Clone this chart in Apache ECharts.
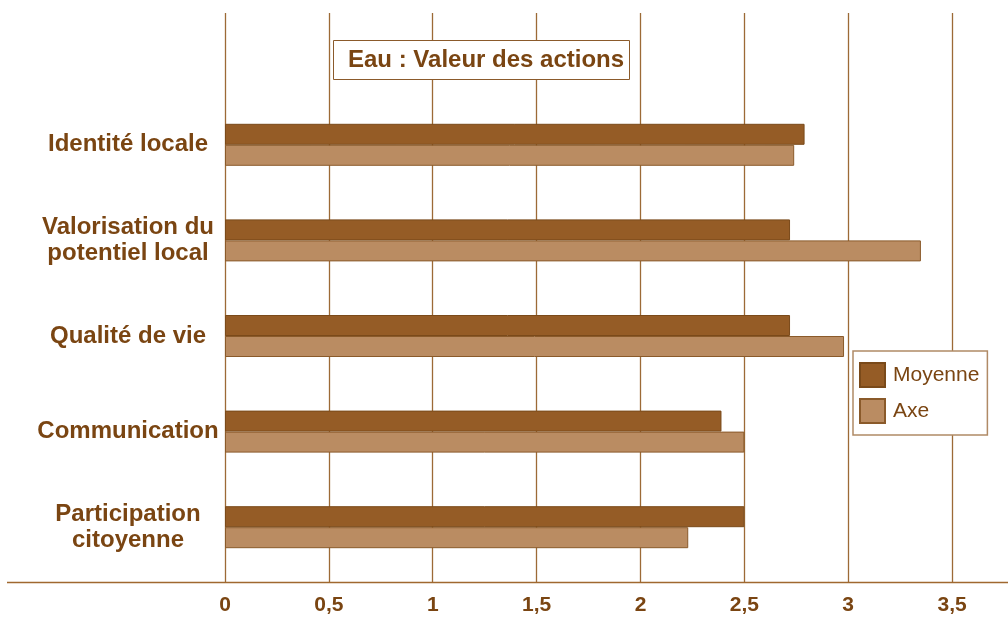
<!DOCTYPE html>
<html>
<head>
<meta charset="utf-8">
<script src="https://cdn.jsdelivr.net/npm/echarts@6/dist/echarts.min.js"></script>
<style>
html, body { margin: 0; padding: 0; background: #fff; }
#chart { width: 1008px; height: 620px; }
</style>
</head>
<body>
<div id="chart"></div>
<script>
var categories = ['Identité locale', 'Valorisation du\npotentiel local', 'Qualité de vie', 'Communication', 'Participation\ncitoyenne'];
var moyenne = [2.79, 2.72, 2.72, 2.39, 2.5];
var axe = [2.74, 3.35, 2.98, 2.5, 2.23];
var titleText = 'Eau : Valeur des actions';

var brown = '#7A4512';
var lineColor = '#9C6A36';
var font = 'Liberation Sans, Arial, sans-serif';

var chart = echarts.init(document.getElementById('chart'));

var option = {
    animation: false,
    title: {
        text: titleText,
        left: 333,
        top: 40,
        padding: [8, 6, 8, 15],
        backgroundColor: '#fff',
        borderColor: '#8B5A2B',
        borderWidth: 1,
        textStyle: {
            color: brown,
            fontFamily: font,
            fontWeight: 'bold',
            fontSize: 24
        }
    },
    legend: {
        orient: 'vertical',
        left: 853,
        top: 351,
        padding: [11, 8, 11, 6],
        itemGap: 10,
        itemWidth: 25,
        itemHeight: 24,
        icon: 'rect',
        backgroundColor: '#fff',
        borderColor: '#B08A66',
        borderWidth: 1.5,
        textStyle: {
            color: brown,
            fontFamily: font,
            fontSize: 21,
            padding: [0, 0, 0, 3]
        },
        data: ['Moyenne', 'Axe']
    },
    grid: [
        // grille des lignes verticales
        { left: 225, right: 4, top: 13, bottom: 38 },
        // grille des barres
        { left: 225, right: 4, top: 97, bottom: 45 }
    ],
    xAxis: [{
        gridIndex: 0,
        type: 'value',
        min: 0,
        max: 3.75,
        interval: 0.5,
        axisLine: { show: false },
        axisTick: { show: false },
        splitLine: { show: true, showMaxLine: false, lineStyle: { color: lineColor, width: 1.3 } },
        axisLabel: {
            margin: 13,
            showMaxLabel: false,
            color: brown,
            fontFamily: font,
            fontWeight: 'bold',
            fontSize: 21,
            formatter: function (v) {
                return v > 3.5 ? '' : String(v).replace('.', ',');
            }
        }
    }, {
        gridIndex: 1,
        type: 'value',
        min: 0,
        max: 3.75,
        show: false
    }],
    yAxis: [{
        gridIndex: 0,
        type: 'value',
        show: false
    }, {
        gridIndex: 1,
        type: 'category',
        inverse: true,
        data: categories,
        axisLine: { show: false },
        axisTick: { show: false },
        splitLine: { show: false },
        axisLabel: {
            margin: 97,
            align: 'center',
            color: brown,
            fontFamily: font,
            fontWeight: 'bold',
            fontSize: 24,
            lineHeight: 26
        }
    }],
    graphic: [{
        type: 'line',
        shape: { x1: 7, y1: 582.5, x2: 1008, y2: 582.5 },
        style: { stroke: '#A0682F', lineWidth: 1.5 },
        z: 10
    }],
    series: [{
        name: 'Moyenne',
        type: 'bar',
        xAxisIndex: 1,
        yAxisIndex: 1,
        data: moyenne,
        barWidth: 21,
        barGap: '0%',
        itemStyle: { color: '#955C26', borderColor: '#7A4A1A', borderWidth: 1 }
    }, {
        name: 'Axe',
        type: 'bar',
        xAxisIndex: 1,
        yAxisIndex: 1,
        data: axe,
        barWidth: 21,
        barGap: '0%',
        itemStyle: { color: '#BA8C62', borderColor: '#8A5A2A', borderWidth: 1 }
    }]
};

chart.setOption(option);
</script>
</body>
</html>
